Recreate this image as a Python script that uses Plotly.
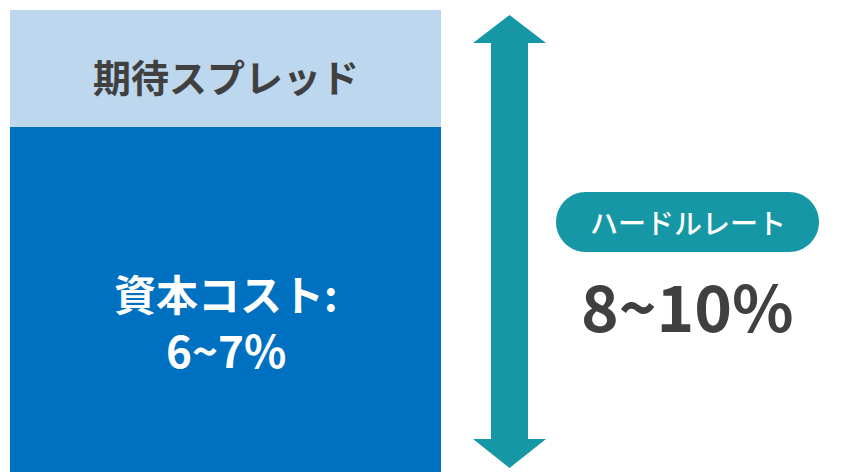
import plotly.graph_objects as go

# --- data ---
spread_label = "期待スプレッド"
cost_label = "資本コスト:"
cost_value = "6~7%"
segment_top = [10, 127]
segment_bottom = [127, 472]
segment_colors = ["#BDD7EE", "#0070C0"]
hurdle_label = "ハードルレート"
hurdle_value = "8~10%"

W, H = 861, 472
FONT = "Noto Sans CJK JP"

fig = go.Figure()
box_x0, box_x1 = 10, 441
shapes = []
for top, bot, col in zip(segment_top, segment_bottom, segment_colors):
    shapes.append(dict(type="rect", xref="x", yref="y", x0=box_x0, x1=box_x1,
                       y0=top, y1=bot, fillcolor=col, line=dict(width=0), layer="below"))

# double arrow
teal = "#1597A5"
sx0, sx1 = 491, 528
hx0, hx1 = 473, 546
cx = (sx0 + sx1) / 2
ytop, yhb, ybb, ybot = 15, 43, 439, 468
arrow = (f"M {cx},{ytop} L {hx1},{yhb} L {sx1},{yhb} L {sx1},{ybb} L {hx1},{ybb} "
         f"L {cx},{ybot} L {hx0},{ybb} L {sx0},{ybb} L {sx0},{yhb} L {hx0},{yhb} Z")
shapes.append(dict(type="path", xref="x", yref="y", path=arrow, fillcolor=teal, line=dict(width=0)))

# pill
px0, px1, py0, py1 = 556, 819, 192, 252
r = (py1 - py0) / 2
k = 0.552
pill = (f"M {px0+r},{py0} L {px1-r},{py0} "
        f"C {px1-r+r*k},{py0} {px1},{py0+r-r*k} {px1},{py0+r} "
        f"C {px1},{py0+r+r*k} {px1-r+r*k},{py1} {px1-r},{py1} "
        f"L {px0+r},{py1} "
        f"C {px0+r-r*k},{py1} {px0},{py0+r+r*k} {px0},{py0+r} "
        f"C {px0},{py0+r-r*k} {px0+r-r*k},{py0} {px0+r},{py0} Z")
shapes.append(dict(type="path", xref="x", yref="y", path=pill, fillcolor=teal, line=dict(width=0)))

bx = (box_x0 + box_x1) / 2
annotations = [
    dict(x=bx, y=75, text=spread_label, showarrow=False,
         font=dict(family=FONT, size=38, color="#404040", weight=600), xref="x", yref="y"),
    dict(x=bx, y=292, text=cost_label, showarrow=False,
         font=dict(family=FONT, size=42, color="#FFFFFF", weight=600), xref="x", yref="y"),
    dict(x=bx, y=349, text=cost_value, showarrow=False,
         font=dict(family=FONT, size=44, color="#FFFFFF", weight=600), xref="x", yref="y"),
    dict(x=(px0 + px1) / 2, y=(py0 + py1) / 2, text=hurdle_label, showarrow=False,
         font=dict(family=FONT, size=28, color="#FFFFFF", weight=500), xref="x", yref="y"),
    dict(x=(px0 + px1) / 2, y=304, text=hurdle_value, showarrow=False,
         font=dict(family=FONT, size=64, color="#404040", weight=600), xref="x", yref="y"),
]

fig.update_layout(
    width=W, height=H, margin=dict(l=0, r=0, t=0, b=0),
    paper_bgcolor="white", plot_bgcolor="white",
    xaxis=dict(range=[0, W], visible=False, fixedrange=True),
    yaxis=dict(range=[H, 0], visible=False, fixedrange=True),
    shapes=shapes, annotations=annotations, showlegend=False,
)
fig.write_html("out.html")
